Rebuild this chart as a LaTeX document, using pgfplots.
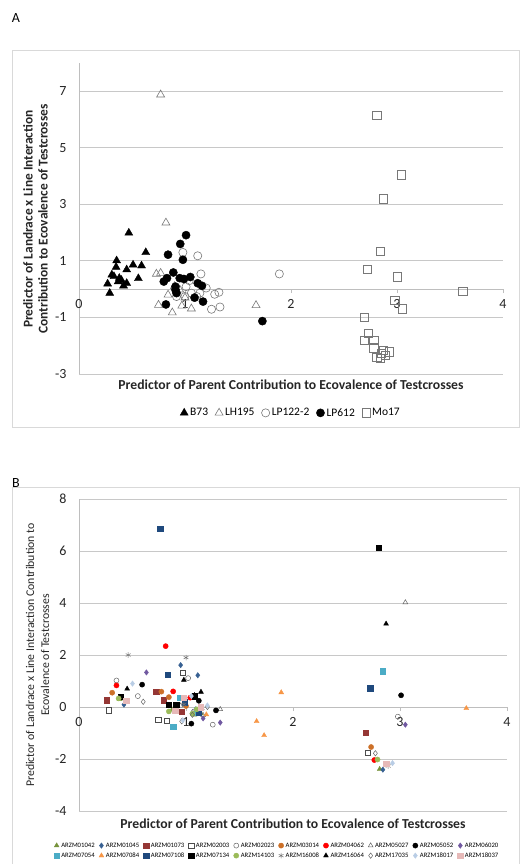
\documentclass[border=0pt]{standalone}
\usepackage{fontspec}
\setmainfont{Carlito}
\usepackage{pgfplots}
\pgfplotsset{compat=1.18}
\definecolor{axgray}{RGB}{190,190,190}
\definecolor{grd}{RGB}{200,200,200}
\definecolor{mkgray}{RGB}{120,120,120}
\definecolor{cOlive}{RGB}{119,147,60}
\definecolor{cBlueD}{RGB}{55,96,146}
\definecolor{cDRed}{RGB}{149,55,53}
\definecolor{cOrBr}{RGB}{204,112,40}
\definecolor{cRed}{RGB}{255,0,0}
\definecolor{cPurp}{RGB}{112,88,160}
\definecolor{cTeal}{RGB}{75,172,198}
\definecolor{cOr}{RGB}{247,150,70}
\definecolor{cNavy}{RGB}{31,73,125}
\definecolor{cLGreen}{RGB}{155,187,89}
\definecolor{cLBlue}{RGB}{185,205,229}
\definecolor{cPink}{RGB}{230,185,184}
\pgfplotsset{
  base/.style={
    scale only axis, xmin=0, xmax=4,
    axis x line=middle, axis y line=left,
    axis line style={draw=axgray, line width=0.8pt, -},
    xtick={0,1,2,3,4}, hide obscured x ticks=false,
    xtick style={draw=axgray, line width=0.8pt},
    tick align=outside, major tick length=4pt,
    ytick style={draw=none},
    ymajorgrids, grid style={draw=grd, line width=0.8pt},
    /pgf/number format/assume math mode=true,
    tick label style={text=black!85},
    xticklabel style={yshift=-3pt},
    yticklabel style={xshift=-5pt},
    clip=false,
    only marks,
  }
}
\begin{document}
\begin{tikzpicture}[x=1pt,y=1pt]
\path[use as bounding box] (0,0) rectangle (521,864);
% frames
\draw[draw=black!15, line width=0.8pt] (12,437) rectangle (519,814);
\draw[draw=black!15, line width=0.8pt] (12,-5) rectangle (519,377);
\node[font=\fontsize{14}{16}\selectfont] at (16,846) {A};
\node[font=\fontsize{14}{16}\selectfont] at (16,381) {B};

% ---------------- Panel A ----------------
\begin{axis}[base, at={(79pt,490pt)}, anchor=south west, width=424pt, height=311pt,
  ymin=-3, ymax=8, ytick={-3,-1,1,3,5,7},
  tick label style={font=\fontsize{14}{16}\selectfont},
  legend image code/.code={\draw[mark repeat=2,mark phase=2,#1] plot coordinates {(0cm,0cm)(0.16cm,0cm)(0.32cm,0cm)};},
  legend columns=5,
  legend style={draw=none, fill=none, at={(0.5,-0.125)}, anchor=center,
    font=\fontsize{11.5}{13}\selectfont, inner sep=1pt,
    /tikz/every even column/.append style={column sep=5pt}},
  ]
\addplot[mark=triangle*, mark size=4.6pt, draw=black, fill=black] coordinates {
(0.47,1.99)(0.63,1.30)(0.355,1.01)(0.35,0.78)(0.31,0.51)(0.27,0.19)(0.29,-0.14)(0.45,0.69)(0.51,0.86)(0.59,0.83)(0.56,0.38)(0.38,0.39)(0.37,0.27)(0.42,0.12)(0.45,0.21)(0.40,0.32)(0.33,0.45)};
\addlegendentry{B73}
\addplot[mark=triangle, mark size=4.6pt, draw=mkgray, line width=0.6pt] coordinates {
(0.77,6.88)(0.82,2.35)(0.73,0.54)(0.77,0.57)(0.75,-0.56)(0.88,-0.83)(0.97,-0.59)(1.06,-0.69)(1.67,-0.57)(0.84,-0.20)(0.95,-0.02)(0.90,0.10)(1.00,-0.30)};
\addlegendentry{LH195}
\addplot[mark=o, mark size=4.1pt, draw=mkgray, line width=0.6pt] coordinates {
(0.98,1.30)(1.12,1.18)(1.15,0.54)(1.89,0.54)(1.20,0.04)(1.28,-0.18)(1.32,-0.11)(1.33,-0.63)(1.25,-0.71)(1.01,0.09)(1.06,-0.14)(1.11,-0.26)(0.92,-0.26)(1.00,-0.26)(1.14,-0.14)(1.04,0.30)};
\addlegendentry{LP122-2}
\addplot[mark=*, mark size=4.1pt, draw=black, fill=black] coordinates {
(1.01,1.91)(0.955,1.60)(0.84,1.22)(0.98,1.04)(0.82,-0.54)(1.73,-1.13)(0.89,0.59)(0.80,0.27)(0.83,0.39)(0.95,0.39)(0.99,0.36)(1.05,0.43)(1.12,0.21)(1.16,0.12)(0.91,0.09)(0.92,-0.14)(1.09,-0.30)(1.17,-0.44)(0.91,-0.02)};
\addlegendentry{LP612}
\addplot[mark=square, mark size=4.2pt, draw=mkgray, line width=0.6pt] coordinates {
(2.81,6.14)(3.04,4.04)(2.87,3.20)(2.84,1.34)(2.72,0.70)(3.00,0.44)(3.62,-0.08)(2.98,-0.40)(3.05,-0.69)(2.69,-0.99)(2.73,-1.56)(2.69,-1.80)(2.78,-1.80)(2.78,-2.07)(2.85,-2.27)(2.93,-2.21)(2.89,-2.33)(2.81,-2.42)(2.84,-2.45)(2.87,-2.16)};
\addlegendentry{Mo17}
\end{axis}
\node[rotate=90, align=center, font=\bfseries\fontsize{13.4}{15}\selectfont, text=black!85] at (35.5,645) {Predictor of Landrace x Line Interaction\\Contribution to Ecovalence of Testcrosses};
\node[font=\bfseries\fontsize{13.7}{15}\selectfont, text=black!85] at (291,479) {Predictor of Parent Contribution to Ecovalence of Testcrosses};

% ---------------- Panel B ----------------
\begin{axis}[base, at={(79pt,53pt)}, anchor=south west, width=428pt, height=312pt,
  ymin=-4, ymax=8, ytick={-4,-2,0,2,4,6,8},
  tick label style={font=\fontsize{14}{16}\selectfont},
  legend image code/.code={\draw[mark repeat=2,mark phase=2,#1] plot coordinates {(0cm,0cm)(0.09cm,0cm)(0.18cm,0cm)};},
  legend columns=10,
  legend style={draw=none, fill=none, at={(0.463,-0.127)}, anchor=center,
    font=\fontsize{6.7}{11}\selectfont, inner sep=0.5pt,
    /tikz/every even column/.append style={column sep=2.3pt}},
  ]
\addplot[mark=triangle*, mark size=2.8pt, draw=cOlive, fill=cOlive] coordinates {(2.81,-2.39)(0.38,0.30)(0.87,-0.10)(1.08,-0.30)(1.14,-0.25)};
\addlegendentry{ARZM01042}
\addplot[mark=diamond*, mark size=2.7pt, draw=cBlueD, fill=cBlueD] coordinates {(0.95,1.61)(1.11,1.22)(0.42,0.09)(2.84,-2.41)(0.91,-0.15)};
\addlegendentry{ARZM01045}
\addplot[mark=square*, mark size=2.7pt, draw=cDRed, fill=cDRed] coordinates {(0.26,0.26)(0.72,0.60)(0.79,0.26)(0.96,-0.19)(2.68,-0.99)};
\addlegendentry{ARZM01073}
\addplot[mark=square, mark size=2.7pt, draw=black!70, line width=0.5pt] coordinates {(0.28,-0.12)(0.74,-0.50)(0.82,-0.53)(0.97,1.32)(2.70,-1.75)};
\addlegendentry{ARZM02003}
\addplot[mark=o, mark size=2.5pt, draw=black!60, line width=0.5pt] coordinates {(0.35,1.02)(0.55,0.42)(1.02,1.11)(1.25,-0.68)(2.98,-0.37)};
\addlegendentry{ARZM02023}
\addplot[mark=*, mark size=2.6pt, draw=cOrBr, fill=cOrBr] coordinates {(0.31,0.55)(0.77,0.59)(0.84,0.38)(1.00,0.04)(2.73,-1.54)};
\addlegendentry{ARZM03014}
\addplot[mark=*, mark size=2.6pt, draw=cRed, fill=cRed] coordinates {(0.81,2.34)(0.35,0.83)(0.88,0.60)(2.76,-2.04)(1.04,0.36)};
\addlegendentry{ARZM04062}
\addplot[mark=triangle, mark size=2.8pt, draw=black!60, line width=0.5pt] coordinates {(3.05,4.02)(1.32,-0.09)(1.06,-0.20)(1.16,-0.32)(0.95,0.05)};
\addlegendentry{ARZM05027}
\addplot[mark=*, mark size=2.6pt, draw=black, fill=black] coordinates {(3.01,0.45)(0.59,0.86)(1.05,-0.64)(1.28,-0.13)(1.12,0.24)};
\addlegendentry{ARZM05052}
\addplot[mark=diamond*, mark size=2.7pt, draw=cPurp, fill=cPurp] coordinates {(0.63,1.33)(3.05,-0.68)(1.32,-0.60)(1.16,-0.44)(1.09,-0.09)};
\addlegendentry{ARZM06020}
\addplot[mark=square*, mark size=2.7pt, draw=cTeal, fill=cTeal] coordinates {(2.84,1.37)(0.88,-0.76)(0.94,0.36)(1.11,-0.22)(1.10,-0.12)};
\addlegendentry{ARZM07054}
\addplot[mark=triangle*, mark size=2.8pt, draw=cOr, fill=cOr] coordinates {(1.89,0.56)(1.66,-0.55)(1.73,-1.09)(3.62,-0.05)(1.19,-0.29)};
\addlegendentry{ARZM07084}
\addplot[mark=square*, mark size=2.7pt, draw=cNavy, fill=cNavy] coordinates {(0.76,6.86)(0.83,1.25)(2.72,0.73)(0.99,0.19)(1.12,-0.20)};
\addlegendentry{ARZM07108}
\addplot[mark=square*, mark size=2.7pt, draw=black, fill=black] coordinates {(2.80,6.12)(0.84,0.10)(0.91,0.10)(0.39,0.40)(1.08,0.42)};
\addlegendentry{ARZM07134}
\addplot[mark=*, mark size=2.6pt, draw=cLGreen, fill=cLGreen] coordinates {(0.37,0.33)(0.84,-0.17)(1.06,-0.26)(2.79,-2.02)(1.10,-0.09)};
\addlegendentry{ARZM14103}
\addplot[mark=asterisk, mark size=2.8pt, draw=black!55, line width=0.5pt] coordinates {(0.46,2.00)(1.00,1.90)(2.89,-2.27)(0.98,0.10)(1.15,-0.05)};
\addlegendentry{ARZM16008}
\addplot[mark=triangle*, mark size=2.8pt, draw=black, fill=black] coordinates {(2.87,3.20)(0.98,1.04)(0.45,0.70)(1.14,0.58)(1.08,0.45)};
\addlegendentry{ARZM16064}
\addplot[mark=diamond, mark size=2.7pt, draw=black!60, line width=0.5pt] coordinates {(2.77,-1.78)(1.06,-0.30)(0.60,0.20)(0.96,-0.55)(1.20,0.00)};
\addlegendentry{ARZM17035}
\addplot[mark=diamond*, mark size=2.7pt, draw=cLBlue, fill=cLBlue] coordinates {(0.50,0.90)(0.97,-0.51)(1.20,0.06)(2.93,-2.16)(1.05,0.42)};
\addlegendentry{ARZM18017}
\addplot[mark=square*, mark size=2.7pt, draw=cPink, fill=cPink] coordinates {(0.44,0.24)(0.90,-0.14)(0.98,0.36)(1.14,0.00)(2.87,-2.18)};
\addlegendentry{ARZM18037}
\end{axis}
\node[rotate=90, align=center, font=\fontsize{11.8}{15}\selectfont, text=black!85] at (37.5,209) {Predictor of Landrace x Line Interaction Contribution to\\Ecovalence of Testcrosses};
\node[font=\bfseries\fontsize{13.7}{15}\selectfont, text=black!85] at (293,40) {Predictor of Parent Contribution to Ecovalence of Testcrosses};
\end{tikzpicture}
\end{document}
